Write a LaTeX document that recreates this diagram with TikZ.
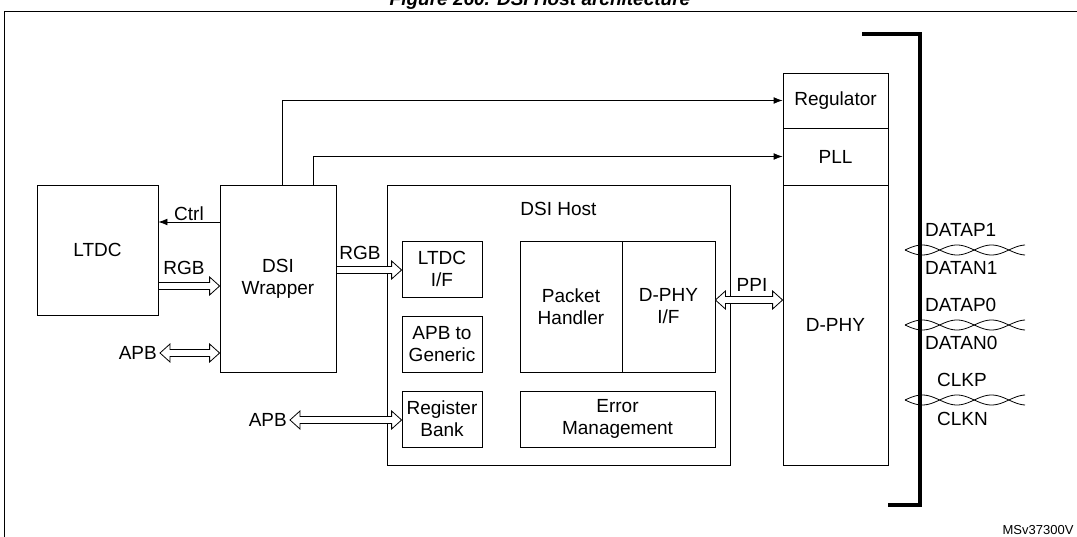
\documentclass[tikz,border=0pt]{standalone}
\usepackage{fontspec}
\setmainfont{Liberation Sans}
\usetikzlibrary{arrows.meta,positioning,calc}
\tikzset{
    blk/.style={
           rectangle,
           draw=black, thick,
           inner sep=2pt,
           align=center,
           font=\fontsize{19}{22}\selectfont,
           },
    lbl/.style={font=\fontsize{19}{22}\selectfont, inner sep=1pt},
}
\newcommand{\twisted}[2]{%
    \draw[thick] plot[domain=#1:1025, samples=100] (\x, {#2+5*sin((\x-#1)*5.2)});
    \draw[thick] plot[domain=#1:1025, samples=100] (\x, {#2-5*sin((\x-#1)*5.2)});
}
% hollow bus arrow, #1 tail, #2 head
\newcommand{\hbus}[2]{%
    \draw[thick,fill=white] ($#1+(0,-3.5)$) -- ($#2+(-10,-3.5)$) -- ($#2+(-10,-9)$) -- #2
        -- ($#2+(-10,9)$) -- ($#2+(-10,3.5)$) -- ($#1+(0,3.5)$) -- cycle;
}
\newcommand{\hbibus}[2]{%
    \draw[thick,fill=white] #1 -- ($#1+(10,-9)$) -- ($#1+(10,-3.5)$) -- ($#2+(-10,-3.5)$) -- ($#2+(-10,-9)$) -- #2
        -- ($#2+(-10,9)$) -- ($#2+(-10,3.5)$) -- ($#1+(10,3.5)$) -- ($#1+(10,9)$) -- cycle;
}
\begin{document}
\begin{tikzpicture}[x=1pt,y=-1pt,>=Latex]
    \useasboundingbox (0,0) rectangle (1077,537);

    % frame and title
    \node[font=\fontsize{19}{22}\selectfont\bfseries\itshape] (T) at (540,1) {Figure 260. DSI Host architecture};
    \draw[thick] (4,545) -- (4,11) -- (1080,11);
    \draw[line width=4pt] (862,34) -- (920,34) -- (920,505) -- (888,505);

    % blocks
    \node[blk,minimum width=121pt,minimum height=130pt] (LTDC) at (97.5,250) {LTDC};
    \node[blk,minimum width=116pt,minimum height=187pt] (W) at (278,278.5) {DSI\\Wrapper};
    \node[blk,minimum width=343pt,minimum height=280pt] (H) at (558.5,325) {};
    \node[lbl,below=16pt of H.north] {DSI Host};
    \node[blk,minimum width=80pt,minimum height=56pt] (LIF) at (442,269) {LTDC\\I/F};
    \node[blk,minimum width=80pt,minimum height=56pt] (APBG) at (442,344) {APB to\\Generic};
    \node[blk,minimum width=80pt,minimum height=56pt] (RB) at (442,419) {Register\\Bank};
    \node[blk,minimum width=102pt,minimum height=131pt] (PH) at (571,306.5) {Packet\\Handler};
    \node[blk,minimum width=93pt,minimum height=131pt] (DIF) at (668.5,306.5) {D-PHY\\I/F};
    \node[blk,minimum width=195pt,minimum height=56pt] (EM) at (617.5,419) {Error\\Management};
    \node[blk,minimum width=105pt,minimum height=55pt] (REG) at (835.5,100.5) {Regulator};
    \node[blk,minimum width=105pt,minimum height=57pt] (PLL) at (835.5,156.5) {PLL};
    \node[blk,minimum width=105pt,minimum height=280pt] (PHY) at (835.5,325) {D-PHY};

    % connections
    \draw[-{Latex[length=9pt]},thick] (W.west |- 0,222) -- node[lbl,above]{Ctrl} (LTDC.east |- 0,222);
    \hbus{(LTDC.east |- 0,286)}{(W.west |- 0,286)}
    \node[lbl] at (184,268) {RGB};
    \coordinate (apb1) at (160,353);
    \node[lbl,left=2pt of apb1] {APB};
    \hbibus{(apb1)}{(W.west |- apb1)}
    \hbus{(W.east |- 0,270)}{(LIF.west |- 0,270)}
    \node[lbl] at (360,253) {RGB};
    \coordinate (apb2) at (290,420);
    \node[lbl,left=2pt of apb2] {APB};
    \hbibus{(apb2)}{(RB.west |- apb2)}
    \hbibus{(DIF.east |- 0,300)}{(PHY.west |- 0,300)}
    \node[lbl] at (752,285) {PPI};
    \draw[-{Latex[length=9pt]},thick] (W.north -| 282,0) |- (REG.west);
    \draw[-{Latex[length=9pt]},thick] (W.north -| 313,0) |- (PLL.west);

    % lanes
    \twisted{905}{250}
    \twisted{905}{325}
    \twisted{905}{400}
    \node[lbl,anchor=west] (d1p) at (924,230) {DATAP1};
    \node[lbl,anchor=west] (d1n) at (924,268) {DATAN1};
    \node[lbl,anchor=west] (d0p) at (924,305) {DATAP0};
    \node[lbl,anchor=west] (d0n) at (924,343) {DATAN0};
    \node[lbl,anchor=west] (ckp) at (936,380) {CLKP};
    \node[lbl,anchor=west] (ckn) at (936,419) {CLKN};
    \node[font=\fontsize{13}{15}\selectfont,anchor=east] (id) at (1077,530) {MSv37300V};
\end{tikzpicture}
\end{document}
